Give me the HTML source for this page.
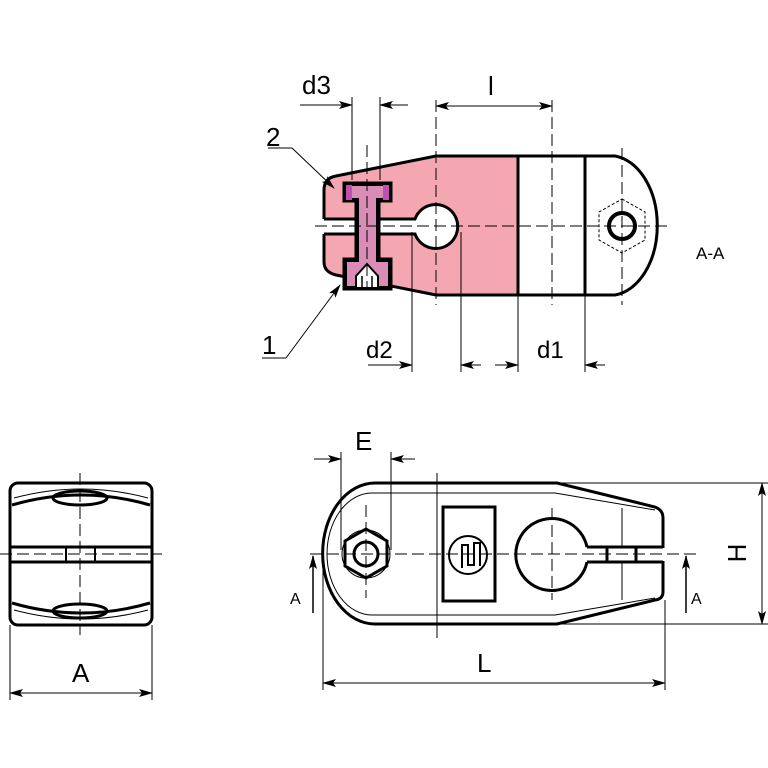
<!DOCTYPE html>
<html><head><meta charset="utf-8"><style>body{margin:0;background:#fff}svg{display:block}</style></head><body>
<svg width="768" height="768" viewBox="0 0 768 768" xmlns="http://www.w3.org/2000/svg" font-family="Liberation Sans, sans-serif">
<defs>
<marker id="ar" markerWidth="14" markerHeight="8" refX="13" refY="4" orient="auto" markerUnits="userSpaceOnUse"><path d="M0,0 L14,4 L0,8 L3,4 Z" fill="#000"/></marker>
</defs>
<g stroke="#000" fill="none">
<!-- TOP VIEW -->
<path d="M336,176 L436,156 L518,156 L518,295 L436,295 L336,275 Q324,272 324,262 L324,232 L436,232 L436,221 L324,221 L324,190 Q324,178 336,176 Z" fill="#f4a7b0" stroke="none"/>
<path d="M518,156 L615,156 A48,70 0 0 1 615,295 L518,295" fill="#fff" stroke-width="3"/>
<path d="M336,176 L436,156 L518,156 M518,295 L436,295 L336,275 Q324,272 324,262 L324,234 M324,219 L324,190 Q324,178 336,176" stroke-width="3"/>
<line x1="518" y1="156" x2="518" y2="295" stroke-width="3"/>
<line x1="585" y1="156" x2="585" y2="295" stroke-width="3"/>
<path d="M324,219 L415,219 A22,22 0 1 1 415,234 L324,234" fill="#fff" stroke-width="3"/>
<!-- screw -->
<path d="M343,182 L392,182 L392,202 L380,202 L380,258 L392,258 L392,290 L343,290 L343,258 L355,258 L355,202 L343,202 Z" fill="#000"/>
<path d="M347,186 L388,186 L388,198 L376,198 L376,262 L388,262 L388,286 L347,286 L347,262 L359,262 L359,198 L347,198 Z" fill="#d98cb5" stroke="none"/>
<rect x="346" y="185" width="6" height="15" fill="#c050b0" stroke="none"/>
<rect x="383" y="185" width="6" height="15" fill="#c050b0" stroke="none"/>
<path d="M356,276 L367,264 L378,276 L378,288 L356,288 Z" fill="#fff" stroke-width="2"/>
<line x1="362" y1="276" x2="362" y2="288" stroke-width="1.5"/><line x1="372" y1="276" x2="372" y2="288" stroke-width="1.5"/>
<circle cx="622" cy="226" r="13" fill="#fff" stroke-width="4"/>
<polygon points="622,199 645,212 645,240 622,253 599,240 599,212" stroke-width="1" stroke-dasharray="3,2"/>
<!-- center lines -->
<g stroke-width="1" stroke-dasharray="12,5">
<line x1="315" y1="226" x2="668" y2="226"/>
<line x1="436" y1="100" x2="436" y2="305"/>
<line x1="552" y1="100" x2="552" y2="305"/>
<line x1="622" y1="148" x2="622" y2="305"/>
<line x1="367" y1="145" x2="367" y2="290"/>
</g>
<g stroke-width="1">
<line x1="352" y1="97" x2="352" y2="180"/><line x1="380" y1="97" x2="380" y2="180"/>
<line x1="300" y1="105" x2="352" y2="105" marker-end="url(#ar)"/>
<line x1="408" y1="105" x2="380" y2="105" marker-end="url(#ar)"/>
<line x1="494" y1="106" x2="436" y2="106" marker-end="url(#ar)"/>
<line x1="494" y1="106" x2="552" y2="106" marker-end="url(#ar)"/>
<line x1="412" y1="232" x2="412" y2="372"/><line x1="461" y1="232" x2="461" y2="372"/>
<line x1="518" y1="295" x2="518" y2="372"/><line x1="585" y1="295" x2="585" y2="372"/>
<line x1="368" y1="365" x2="412" y2="365" marker-end="url(#ar)"/>
<line x1="481" y1="365" x2="461" y2="365" marker-end="url(#ar)"/>
<line x1="495" y1="365" x2="518" y2="365" marker-end="url(#ar)"/>
<line x1="605" y1="365" x2="585" y2="365" marker-end="url(#ar)"/>
<line x1="268" y1="148" x2="292" y2="148"/><line x1="292" y1="148" x2="334" y2="188" marker-end="url(#ar)"/>
<line x1="262" y1="358" x2="286" y2="358"/><line x1="286" y1="358" x2="340" y2="285" marker-end="url(#ar)"/>
</g>
<!-- BOTTOM VIEW -->
<path d="M375,483 L557,483 L655,507 Q663,510 663,518 L663,592 Q663,599 655,600 L557,624 L375,624 A52,70 0 0 1 375,483 Z" stroke-width="3" fill="#fff"/>
<rect x="588" y="548" width="78" height="13" fill="#fff" stroke="none"/>
<path d="M587,547 L663,547 M587,562 L663,562" stroke-width="3"/>
<path d="M372,493 L555,493 L655,510 M655,598 L555,615 L372,615 A45,61 0 0 1 372,493" stroke-width="1"/>
<line x1="622" y1="508" x2="622" y2="547" stroke-width="1"/><line x1="622" y1="562" x2="622" y2="600" stroke-width="1"/>
<line x1="607" y1="547" x2="607" y2="562" stroke-width="3"/><line x1="636" y1="547" x2="636" y2="562" stroke-width="3"/>
<line x1="437" y1="473" x2="437" y2="638" stroke-width="1"/>
<rect x="443" y="507" width="52" height="94" stroke-width="3"/>
<circle cx="468" cy="555" r="19" stroke-width="2"/>
<path d="M462,568 L462,545 L468,545 L468,565 L474,565 L474,543 L480,543 L480,566" stroke-width="2"/>
<path d="M587,547 A36,36 0 1 0 587,562" stroke-width="3" fill="#fff"/>
<polygon points="366,529 387,541 387,566 366,578 345,566 345,541" stroke-width="3" fill="#fff"/>
<circle cx="366" cy="554" r="24" stroke-width="1"/>
<circle cx="366" cy="554" r="12" stroke-width="3"/>
<g stroke-width="1" stroke-dasharray="12,5">
<line x1="310" y1="554" x2="700" y2="554"/>
<line x1="552" y1="508" x2="552" y2="600"/>
<line x1="366" y1="505" x2="366" y2="598"/>
</g>
<g stroke-width="1">
<line x1="341" y1="452" x2="341" y2="550"/><line x1="391" y1="452" x2="391" y2="550"/>
<line x1="314" y1="459" x2="341" y2="459" marker-end="url(#ar)"/>
<line x1="415" y1="459" x2="391" y2="459" marker-end="url(#ar)"/>
<line x1="560" y1="483" x2="768" y2="483"/><line x1="560" y1="624" x2="768" y2="624"/>
<line x1="762" y1="553" x2="762" y2="483" marker-end="url(#ar)"/>
<line x1="762" y1="553" x2="762" y2="624" marker-end="url(#ar)"/>
<line x1="323" y1="550" x2="323" y2="690"/><line x1="665" y1="600" x2="665" y2="690"/>
<line x1="494" y1="683" x2="323" y2="683" marker-end="url(#ar)"/>
<line x1="494" y1="683" x2="665" y2="683" marker-end="url(#ar)"/>
<line x1="313" y1="613" x2="313" y2="556" stroke-width="1.5" marker-end="url(#ar)"/>
<line x1="686" y1="613" x2="686" y2="556" stroke-width="1.5" marker-end="url(#ar)"/>
</g>
<!-- LEFT VIEW -->
<rect x="10" y="483" width="142" height="142" rx="8" stroke-width="3" fill="#fff"/>
<path d="M12,505 Q81,485 150,505" stroke-width="3"/>
<path d="M14,498 Q81,480 148,498" stroke-width="1"/>
<path d="M12,603 Q81,623 150,603" stroke-width="3"/>
<path d="M14,610 Q81,628 148,610" stroke-width="1"/>
<ellipse cx="80" cy="498" rx="27" ry="7" stroke-width="3"/>
<ellipse cx="80" cy="611" rx="27" ry="7" stroke-width="3"/>
<line x1="10" y1="547" x2="152" y2="547" stroke-width="3"/><line x1="10" y1="562" x2="152" y2="562" stroke-width="3"/>
<rect x="66" y="547" width="29" height="15" stroke-width="2"/>
<g stroke-width="1" stroke-dasharray="12,5">
<line x1="0" y1="554" x2="162" y2="554"/><line x1="80" y1="473" x2="80" y2="635"/>
</g>
<g stroke-width="1">
<line x1="10" y1="625" x2="10" y2="700"/><line x1="152" y1="625" x2="152" y2="700"/>
<line x1="81" y1="693" x2="10" y2="693" marker-end="url(#ar)"/>
<line x1="81" y1="693" x2="152" y2="693" marker-end="url(#ar)"/>
</g>
</g>
<g fill="#000" font-size="26">
<text x="302" y="94">d3</text>
<text x="488" y="95">l</text>
<text x="266" y="146">2</text>
<text x="262" y="354">1</text>
<text x="366" y="358" font-size="24">d2</text>
<text x="537" y="358" font-size="24">d1</text>
<text x="696" y="259" font-size="17">A-A</text>
<text x="355" y="450">E</text>
<text x="477" y="672">L</text>
<text x="72" y="682">A</text>
<text x="290" y="604" font-size="16">A</text>
<text x="691" y="604" font-size="16">A</text>
<text transform="translate(746,553) rotate(-90)" text-anchor="middle" font-size="26">H</text>
</g>
</svg>
</body></html>
